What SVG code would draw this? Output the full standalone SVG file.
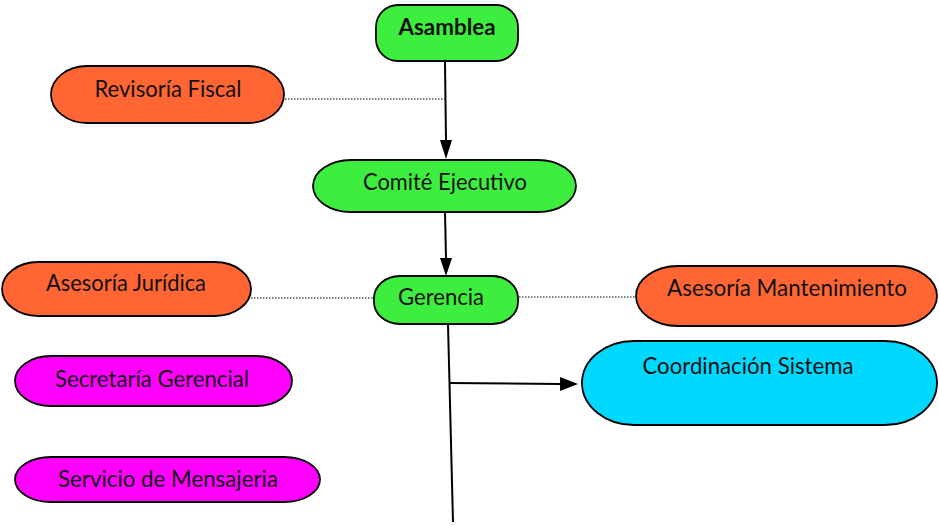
<svg xmlns="http://www.w3.org/2000/svg" width="939" height="525" viewBox="0 0 939 525">
<defs>
<style>
.n{stroke:#000;stroke-width:1.8}
.g{fill:#3eee3e}.o{fill:#ff6633}.m{fill:#ff00ff}.c{fill:#00d9ff}
text{font-family:"Lato","Liberation Sans",sans-serif;font-size:22.5px;fill:#111}
.b{font-weight:bold}
.dot{stroke:#000;stroke-width:1;stroke-dasharray:1.5 1.5;fill:none}
.ln{stroke:#000;stroke-width:2;fill:none}
.ah{fill:#000}
</style>
</defs>
<rect width="939" height="525" fill="#fff"/>
<g id="connectors">
<path class="dot" d="M285,99 H445"/>
<path class="dot" d="M251,298 H374"/>
<path class="dot" d="M519,297 H636"/>
<line class="ln" x1="445" y1="62" x2="446" y2="141"/>
<path class="ah" d="M440,140 L452,140 L446,159 z"/>
<line class="ln" x1="445" y1="212" x2="446" y2="258"/>
<path class="ah" d="M440,258 L452,258 L446,276 z"/>
<line class="ln" x1="448" y1="324" x2="453" y2="522"/>
<line class="ln" x1="449" y1="383" x2="560" y2="384"/>
<path class="ah" d="M560,377 L578,384 L560,391 z"/>
</g>
<g id="asamblea"><rect class="n g" x="376" y="5" width="142" height="56" rx="22" ry="22"/><text class="b" x="447" y="35" text-anchor="middle" textLength="97" lengthAdjust="spacingAndGlyphs">Asamblea</text></g>
<g id="revisoria"><rect class="n o" x="51" y="66" width="233" height="57" rx="36" ry="28.5"/><text x="168" y="97" text-anchor="middle" textLength="147" lengthAdjust="spacingAndGlyphs">Revisoría Fiscal</text></g>
<g id="comite"><rect class="n g" x="313" y="160" width="263" height="52" rx="38" ry="26"/><text x="445" y="190" text-anchor="middle" textLength="164" lengthAdjust="spacingAndGlyphs">Comité Ejecutivo</text></g>
<g id="juridica"><rect class="n o" x="2" y="262" width="249" height="54" rx="36" ry="27"/><text x="126" y="291" text-anchor="middle" textLength="160" lengthAdjust="spacingAndGlyphs">Asesoría Jurídica</text></g>
<g id="gerencia"><rect class="n g" x="374" y="276" width="144" height="48" rx="26" ry="22"/><text x="441" y="305" text-anchor="middle" textLength="86" lengthAdjust="spacingAndGlyphs">Gerencia</text></g>
<g id="mantenimiento"><rect class="n o" x="636" y="266" width="301" height="60" rx="42" ry="30"/><text x="787" y="296" text-anchor="middle" textLength="240" lengthAdjust="spacingAndGlyphs">Asesoría Mantenimiento</text></g>
<g id="coordinacion"><rect class="n c" x="582" y="341" width="355" height="84" rx="52" ry="42"/><text x="748" y="374" text-anchor="middle" textLength="211" lengthAdjust="spacingAndGlyphs">Coordinación Sistema</text></g>
<g id="secretaria"><rect class="n m" x="15" y="356" width="277" height="50" rx="36" ry="25"/><text x="152" y="387" text-anchor="middle" textLength="194" lengthAdjust="spacingAndGlyphs">Secretaría Gerencial</text></g>
<g id="mensajeria"><rect class="n m" x="15" y="457" width="305" height="45" rx="36" ry="22.5"/><text x="168" y="487" text-anchor="middle" textLength="220" lengthAdjust="spacingAndGlyphs">Servicio de Mensajeria</text></g>
</svg>
